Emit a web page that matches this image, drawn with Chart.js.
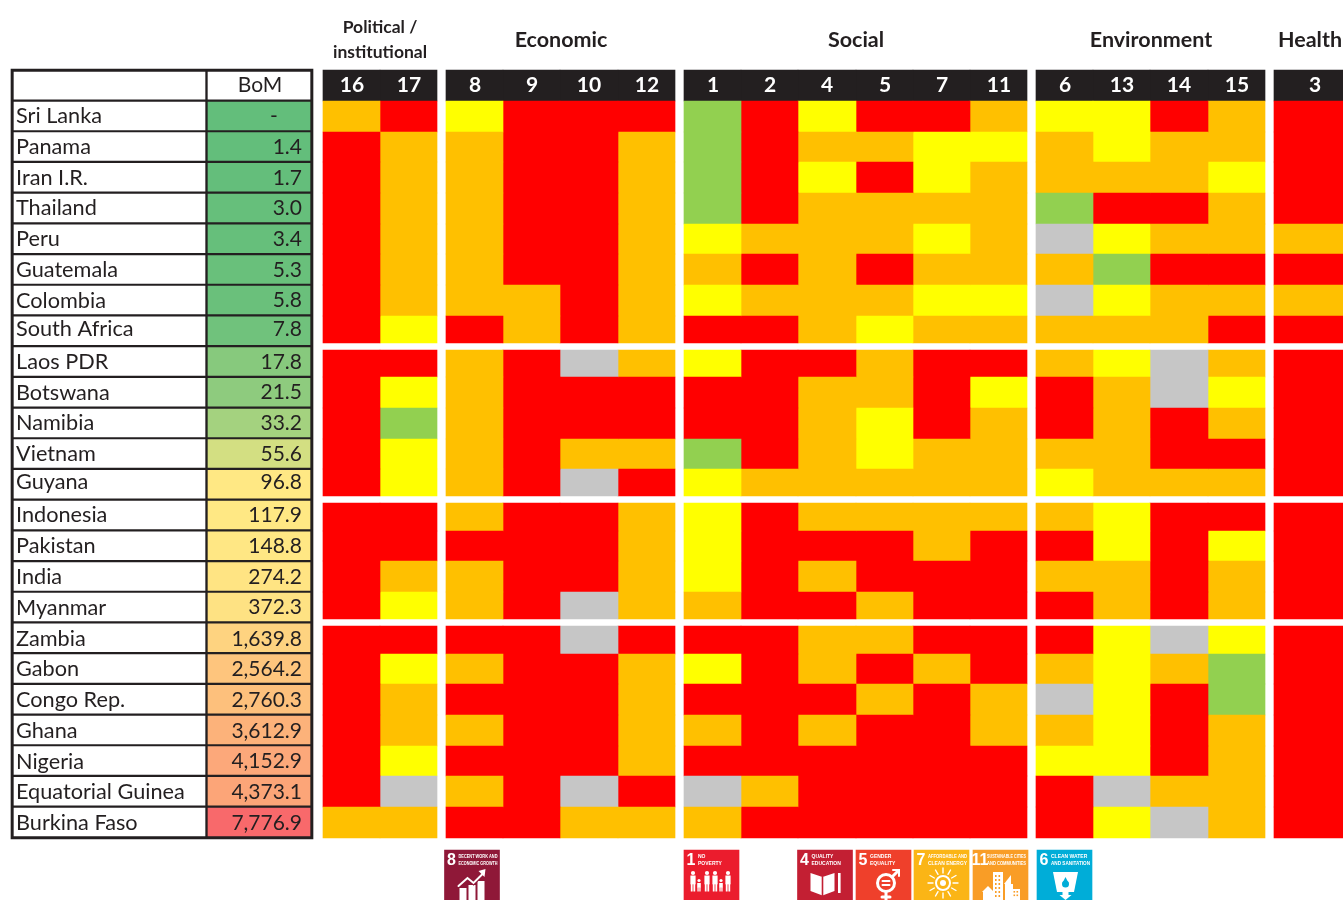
<!DOCTYPE html>
<html><head><meta charset="utf-8">
<style>html,body{margin:0;padding:0;background:#fff;overflow:hidden}#w{width:1343px;height:900px;position:relative}canvas{display:block}</style>
<script src="https://cdn.jsdelivr.net/npm/chart.js@4"></script></head>
<body><div id="w"><canvas id="c" width="1343" height="900"></canvas></div>
<script>
// ---- data ----
const countries = ['Sri Lanka','Panama','Iran I.R.','Thailand','Peru','Guatemala','Colombia','South Africa','Laos PDR','Botswana','Namibia','Vietnam','Guyana','Indonesia','Pakistan','India','Myanmar','Zambia','Gabon','Congo Rep.','Ghana','Nigeria','Equatorial Guinea','Burkina Faso'];
const bom = ['-','1.4','1.7','3.0','3.4','5.3','5.8','7.8','17.8','21.5','33.2','55.6','96.8','117.9','148.8','274.2','372.3','1,639.8','2,564.2','2,760.3','3,612.9','4,152.9','4,373.1','7,776.9'];
const groupSizes = [8,5,4,7];
const themes = ['Political /\ninstitutional','Economic','Social','Environment','Health'];
const themeGoals = [[16,17],[8,9,10,12],[1,2,4,5,7,11],[6,13,14,15],[3]];
// ratings per country, in the order of the goals above: R red, O orange, Y yellow, G green, X grey (no data)
const sriLanka   = ['O','R','Y','R','R','R','G','R','Y','R','R','O','Y','Y','R','O','R'];
const panama     = ['R','O','O','R','R','O','G','R','O','O','Y','Y','O','Y','O','O','R'];
const iran       = ['R','O','O','R','R','O','G','R','Y','R','Y','O','O','O','O','Y','R'];
const thailand   = ['R','O','O','R','R','O','G','R','O','O','O','O','G','R','R','O','R'];
const peru       = ['R','O','O','R','R','O','Y','O','O','O','Y','O','X','Y','O','O','O'];
const guatemala  = ['R','O','O','R','R','O','O','R','O','R','O','O','O','G','R','R','R'];
const colombia   = ['R','O','O','O','R','O','Y','O','O','O','Y','Y','X','Y','O','O','O'];
const southAfrica= ['R','Y','R','O','R','O','R','R','O','Y','O','O','O','O','O','R','R'];
const laos       = ['R','R','O','R','X','O','Y','R','R','O','R','R','O','Y','X','O','R'];
const botswana   = ['R','Y','O','R','R','R','R','R','O','O','R','Y','R','O','X','Y','R'];
const namibia    = ['R','G','O','R','R','R','R','R','O','Y','R','O','R','O','R','O','R'];
const vietnam    = ['R','Y','O','R','O','O','G','R','O','Y','O','O','O','O','R','R','R'];
const guyana     = ['R','Y','O','R','X','R','Y','O','O','O','O','O','Y','O','O','O','R'];
const indonesia  = ['R','R','O','R','R','O','Y','R','O','O','O','O','O','Y','R','R','R'];
const pakistan   = ['R','R','R','R','R','O','Y','R','R','R','O','R','R','Y','R','Y','R'];
const india      = ['R','O','O','R','R','O','Y','R','O','R','R','R','O','O','R','O','R'];
const myanmar    = ['R','Y','O','R','X','O','O','R','R','O','R','R','R','O','R','O','R'];
const zambia     = ['R','R','R','R','X','R','R','R','O','O','R','R','R','Y','X','Y','R'];
const gabon      = ['R','Y','O','R','R','O','Y','R','O','R','O','R','O','Y','O','G','R'];
const congo      = ['R','O','R','R','R','O','R','R','R','O','R','O','X','Y','R','G','R'];
const ghana      = ['R','O','O','R','R','O','O','R','O','R','R','O','O','Y','R','O','R'];
const nigeria    = ['R','Y','R','R','R','O','R','R','R','R','R','R','Y','Y','R','O','R'];
const eqGuinea   = ['R','X','O','R','X','R','X','O','R','R','R','R','R','X','O','O','R'];
const burkina    = ['O','O','R','R','O','O','O','R','R','R','R','R','R','Y','X','O','R'];
const ratings = [sriLanka,panama,iran,thailand,peru,guatemala,colombia,southAfrica,laos,botswana,namibia,vietnam,guyana,indonesia,pakistan,india,myanmar,zambia,gabon,congo,ghana,nigeria,eqGuinea,burkina];
const iconGoals  = [8,1,4,5,7,11,6];
const iconTitles = [['DECENT WORK AND','ECONOMIC GROWTH'],['NO','POVERTY'],['QUALITY','EDUCATION'],['GENDER','EQUALITY'],['AFFORDABLE AND','CLEAN ENERGY'],['SUSTAINABLE CITIES','AND COMMUNITIES'],['CLEAN WATER','AND SANITATION']];

// ---- styles ----
const ratingColor = {R:'#ff0000',O:'#ffc000',Y:'#ffff00',G:'#92d050',X:'#c6c6c6'};
const bomColors = ['#63be7b','#63be7b','#64be7b','#66bf7b','#66bf7b','#69c07b','#6ac07b','#70c27c','#87c97d','#8ecb7e','#a4d27f','#d3df82','#ffe884','#ffe884','#ffe784','#ffe483','#fee283','#fed380','#fec57d','#fdc07c','#fcb27a','#fca87a','#fca578','#f8696b'];
const iconColors = ['#8f1838','#eb1c2d','#c31f33','#ef402b','#fbb516','#f99d26','#00add8'];
const ink = '#231f20', dark = '#231f20';
const font = 'Lato, Carlito, sans-serif';
const narrow = '"Liberation Sans Narrow", "Liberation Sans", sans-serif';

// ---- layout (scale units are 1/1343 and 1/900 of the chart) ----
const themeLeft = [323,446,684,1036,1274], colW = 57.2, lastColW = 69;
const rowTop = 101, rowH = 30.7, groupGap = 3.5;
const tableTop = 102, tableCell = 27.8;
const iconX = [472,711.5,825,883.5,941.5,1000.5,1064.5], iconW = 55, iconTop = 850;

const goalCols = [];
themeGoals.forEach((gs,t)=>gs.forEach((g,i)=>{
  const left = Math.round(themeLeft[t]+i*colW);
  const right = t===4 ? themeLeft[t]+lastColW : Math.round(themeLeft[t]+(i+1)*colW);
  goalCols.push({goal:g, theme:t, left, w:right-left});
}));
const rowSpan = [];
{ let n=0; groupSizes.forEach(s=>{ for(let i=0;i<s;i++){
    rowSpan.push([Math.floor(rowTop+rowH*n+(i===0&&n>0?groupGap:0)+0.4), Math.floor(rowTop+rowH*(n+1)-(i===s-1&&n<23?groupGap:0)+0.4)]); n++; } }); }

const datasets = [];
// heat map: one bar dataset per goal column
goalCols.forEach((c,ci)=>datasets.push({
  label:'SDG '+c.goal, barThickness:c.w, stack:'s', order:1,
  backgroundColor:countries.map((_,r)=>ratingColor[ratings[r][ci]]),
  data:countries.map((_,r)=>({x:c.left+c.w/2, y:rowSpan[r]}))
}));
// dark goal header bars
goalCols.forEach(c=>datasets.push({
  label:'head '+c.goal, barThickness:c.w, stack:'s', order:1, backgroundColor:dark,
  data:[{x:c.left+c.w/2, y:[70,101]}]
}));
// table
const tableRows = countries.map((_,i)=>[tableTop+rowH*i, tableTop+rowH*i+tableCell]);
datasets.push({label:'Country',barThickness:191,stack:'s',order:1,backgroundColor:'#fff',
  data:[[72,99.2],...tableRows].map(y=>({x:109.5,y}))});
datasets.push({label:'BoM',barThickness:102,stack:'s',order:1,backgroundColor:['#fff',...bomColors],
  data:[[72,99.2],...tableRows].map(y=>({x:259,y}))});
datasets.push({label:'grid',barThickness:302,stack:'s',order:5,backgroundColor:dark,data:[{x:162,y:[69,839]}]});
// goal icons
datasets.push({label:'icons',barThickness:iconW,stack:'s',order:1,backgroundColor:iconColors,
  data:iconX.map(x=>({x,y:[iconTop,900]}))});

function glyph(ctx,goal,x,y){ // x,y: icon top-left
  ctx.save();ctx.translate(x,y);ctx.strokeStyle='#fff';ctx.fillStyle='#fff';ctx.lineWidth=1.4;ctx.lineCap='round';
  const line=(...p)=>{ctx.beginPath();ctx.moveTo(p[0],p[1]);for(let i=2;i<p.length;i+=2)ctx.lineTo(p[i],p[i+1]);ctx.stroke();};
  if(goal===8){
    [[15,38,7,12],[24,35,7,15],[33,31,7,19]].forEach(r=>ctx.fillRect(...r));
    ctx.strokeStyle='#fff';ctx.lineWidth=2;
    ctx.save();ctx.strokeStyle=iconColors[0];ctx.lineWidth=4;line(14,36,23,28,29,33,39,23);ctx.restore();
    line(14,36,23,28,29,33,39,23);
    ctx.beginPath();ctx.moveTo(41,19);ctx.lineTo(34,21);ctx.lineTo(40,27);ctx.fill();
  } else if(goal===1){
    [[9,1],[15,0],[23,1],[31,1],[37,0],[44,1]].forEach(([X,ad])=>{
      const B=41.5,h=ad?16:8.5;
      ctx.beginPath();ctx.arc(X,B-h-2.5,ad?2.1:1.6,0,7);ctx.fill();
      ctx.fillRect(X-(ad?2.6:1.8),B-h,ad?5.2:3.6,h*.55);
      ctx.fillRect(X-(ad?2.2:1.6),B-h*.5,ad?1.8:1.3,h*.5);ctx.fillRect(X+(ad?.4:.3),B-h*.5,ad?1.8:1.3,h*.5);
    });
  } else if(goal===4){
    ctx.lineWidth=1.6;
    ctx.beginPath();ctx.moveTo(25,27);ctx.lineTo(13,23);ctx.lineTo(13,41);ctx.lineTo(25,45.5);ctx.lineTo(37,41);ctx.lineTo(37,23);ctx.closePath();ctx.fill();
    ctx.strokeStyle=iconColors[2];line(25,27,25,45.5);
    ctx.fillStyle='#fff';ctx.fillRect(40.5,23,2.6,20);
  } else if(goal===5){
    ctx.lineWidth=3;ctx.beginPath();ctx.arc(30,33,8.5,0,7);ctx.stroke();
    line(30,42,30,50);line(26,47,34,47);line(36,27,42,21);
    ctx.lineWidth=2;line(37,20,43,20,43,26);line(26.5,31,33.5,31);line(26.5,35,33.5,35);
  } else if(goal===7){
    ctx.beginPath();ctx.arc(29,33,7,0,7);ctx.lineWidth=2;ctx.stroke();ctx.beginPath();ctx.arc(29,33,3,0,7);ctx.fill();
    for(let a=0;a<12;a++){const t=a*Math.PI/6;ctx.lineWidth=1.4;line(29+Math.cos(t)*10,33+Math.sin(t)*10,29+Math.cos(t)*15,33+Math.sin(t)*15);}
  } else if(goal===11){
    [[10,42,10,8],[20,22,10,28],[32,34,8,16],[39,39,8,11]].forEach(r=>ctx.fillRect(...r));
    ctx.beginPath();ctx.moveTo(9,42);ctx.lineTo(15,36);ctx.lineTo(21,42);ctx.fill();
    ctx.beginPath();ctx.moveTo(31,34);ctx.lineTo(38,25);ctx.lineTo(38,34);ctx.fill();
    ctx.fillStyle=iconColors[5];for(let j=25;j<48;j+=4)for(let k=22;k<29;k+=3.5)ctx.fillRect(k,j,1.6,2);
    for(let j=41;j<48;j+=3.5)for(let k=40.5;k<46;k+=3)ctx.fillRect(k,j,1.6,1.6);
  } else if(goal===6){
    ctx.beginPath();ctx.moveTo(16,22);ctx.lineTo(41,22);ctx.lineTo(37,42);ctx.lineTo(20,42);ctx.fill();
    ctx.fillRect(25.5,42,6,3);ctx.beginPath();ctx.moveTo(22.5,45);ctx.lineTo(34.5,45);ctx.lineTo(28.5,50);ctx.fill();
    ctx.fillStyle=iconColors[6];ctx.beginPath();ctx.arc(28.5,34,3.5,0,7);ctx.fill();ctx.beginPath();ctx.moveTo(28.5,27);ctx.lineTo(25.5,33);ctx.lineTo(31.5,33);ctx.fill();
  }
  ctx.restore();
}

const textPlugin = { id:'texts', afterDatasetsDraw(chart){
  const {ctx,scales:{x,y}}=chart;
  const put=(s,px,py,f,col,al,mw)=>{ctx.font=f;ctx.fillStyle=col;ctx.textAlign=al;ctx.textBaseline='middle';mw?ctx.fillText(s,px,py,mw):ctx.fillText(s,px,py);};
  ctx.save();
  countries.forEach((n,i)=>{
    const nudge=(i===7||i===12)?-1.5:(i>=17?1.5:1);
    const m=y.getPixelForValue((tableRows[i][0]+tableRows[i][1])/2)-0.5+nudge;
    put(n,x.getPixelForValue(16),m,'21.7px '+font,ink,'left');
    const v=bom[i];
    if(v==='-') put(v,x.getPixelForValue(274),m,'21px '+font,ink,'center');
    else put(v,x.getPixelForValue(302),m,'21px '+font,ink,'right');
  });
  put('BoM',x.getPixelForValue(260),y.getPixelForValue(85.5),'21px '+font,ink,'center');
  goalCols.forEach(c=>put(String(c.goal),x.getPixelForValue(c.left+(c.theme===4?41:29)),y.getPixelForValue(85.5),'bold 21px '+font,'#fff','center'));
  const tc=[380,561,856,1151,1310];
  themes.forEach((t,i)=>{
    if(t.includes('\n')){const p=t.split('\n');
      put(p[0],x.getPixelForValue(tc[i]),y.getPixelForValue(27.5),'bold 17.5px '+font,ink,'center');
      put(p[1],x.getPixelForValue(tc[i]),y.getPixelForValue(52.5),'bold 17.5px '+font,ink,'center');
    } else put(t,x.getPixelForValue(tc[i]),y.getPixelForValue(40.5),'bold 21.5px '+font,ink,'center');
  });
  iconGoals.forEach((g,i)=>{
    const L=x.getPixelForValue(iconX[i]-iconW/2),T=y.getPixelForValue(iconTop);
    put(String(g),L+7,T+11,'bold 16px '+narrow,'#fff','center');
    iconTitles[i].forEach((s,k)=>put(s,L+14,T+6.7+k*6.6,'bold 5px '+narrow,'#fff','left',iconW-16));
    glyph(ctx,g,L,T);
  });
  ctx.restore();
}};

new Chart(document.getElementById('c'),{
  type:'bar',
  data:{datasets},
  plugins:[textPlugin],
  options:{
    responsive:false,animation:false,
    layout:{padding:0},
    plugins:{legend:{display:false},tooltip:{enabled:false},title:{display:false}},
    scales:{
      x:{type:'linear',min:0,max:1343,stacked:true,display:false,offset:false},
      y:{type:'linear',min:0,max:900,reverse:true,stacked:false,display:false,offset:false}
    }
  }
});
</script></body></html>
